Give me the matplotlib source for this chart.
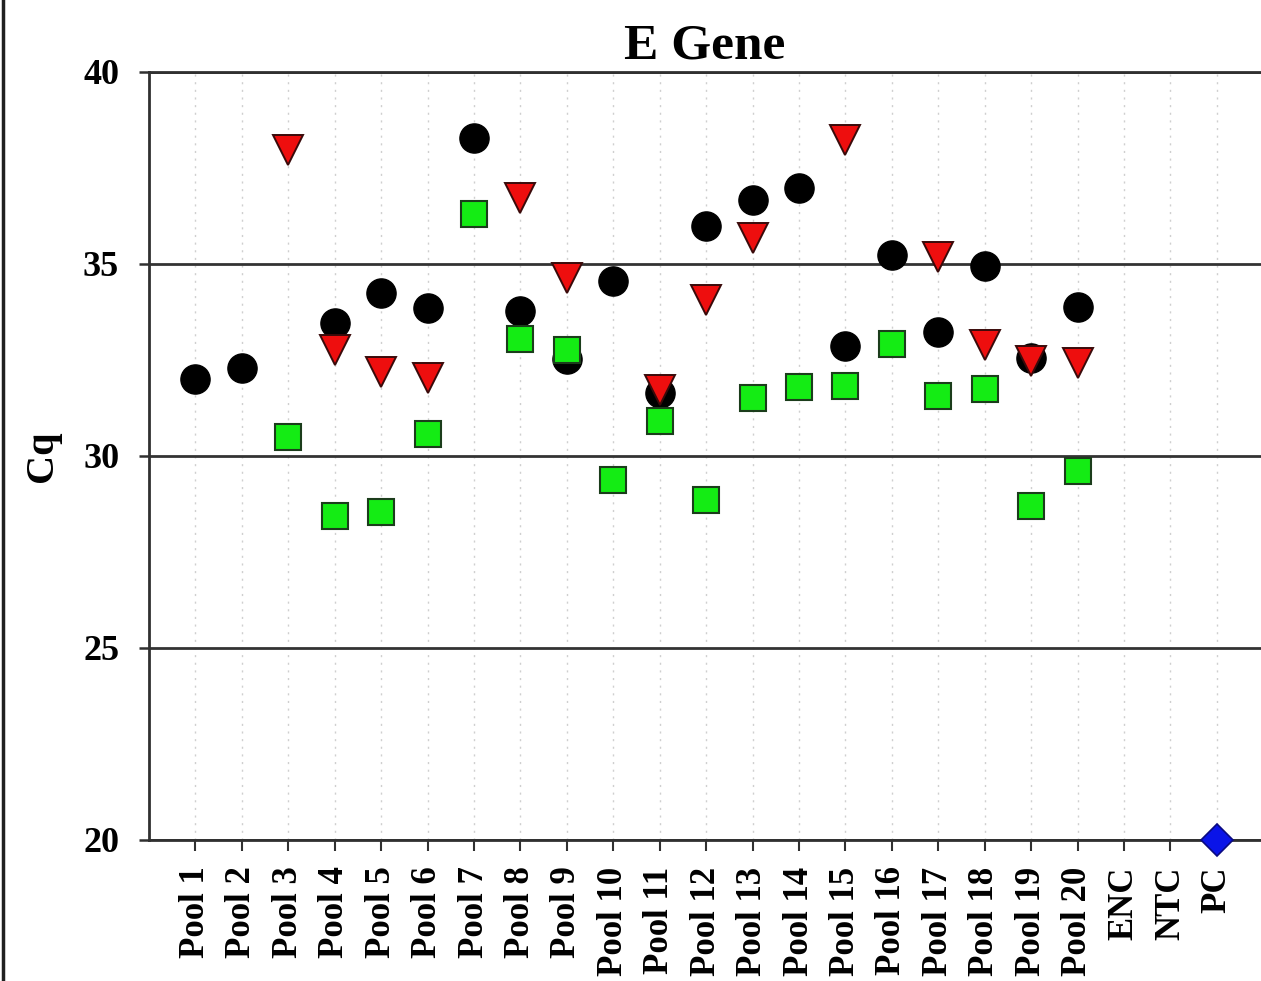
import matplotlib.pyplot as plt
from matplotlib.lines import Line2D

# categories on the x axis
labels = [f"Pool {i}" for i in range(1, 21)] + ["ENC", "NTC", "PC"]

# Cq values (None = no point)
circle_cq = [32.0, 32.3, None, 33.47, 34.25, 33.86, 38.27, 33.78, 32.53, 34.56,
             31.64, 35.99, 36.67, 36.98, 32.86, 35.24, 33.23, 34.95, 32.55, 33.89,
             None, None, None]
square_cq = [None, None, 30.5, 28.44, 28.54, 30.58, 36.3, 33.04, 32.76, 29.38,
             30.92, 28.85, 31.52, 31.79, 31.81, 32.92, 31.55, 31.74, 28.7, 29.6,
             None, None, None]
triangle_cq = [None, None, 37.98, 32.76, 32.2, 32.04, None, 36.71, 34.63, None,
               31.72, 34.06, 35.67, None, 38.23, None, 35.19, 32.89, 32.48, 32.43,
               None, None, None]
diamond_cq = [None] * 22 + [20.0]


def pts(values):
    xs = [i + 1 for i, v in enumerate(values) if v is not None]
    ys = [v for v in values if v is not None]
    return xs, ys


plt.rcParams['font.family'] = ['Liberation Serif', 'DejaVu Serif']
plt.rcParams['font.weight'] = 'bold'

fig = plt.figure(figsize=(12.61, 9.81), dpi=100)
ax = fig.add_axes([149 / 1261, 1 - 840 / 981, 1 - 149 / 1261, (840 - 72) / 981])

# gridlines
ax.set_axisbelow(True)
ax.yaxis.grid(True, color='#333333', linewidth=2.0, linestyle='-')
ax.xaxis.grid(True, color='#cfcfcf', linewidth=1.0, linestyle=(0, (1.5, 4)))

# points
x, y = pts(circle_cq)
ax.plot(x, y, 'o', ms=21, color='black', mec='black', zorder=3)
x, y = pts(square_cq)
ax.plot(x, y, 's', ms=18.5, color='#14ec14', mec='#1b3d1b', mew=1.5, zorder=4)
x, y = pts(triangle_cq)
ax.plot(x, y, 'v', ms=21, color='#ee0e0e', mec='#3a0a0a', mew=1.4, zorder=5)
x, y = pts(diamond_cq)
ax.plot(x, y, 'D', ms=16, color='#0a14e8', mec='#0a0a80', mew=1.2, zorder=6, clip_on=False)

ax.set_xlim(0, 23.95)
ax.set_ylim(20, 40)
ax.set_xticks(range(1, len(labels) + 1))
ax.set_xticklabels(labels, rotation=90, fontsize=25, fontweight='bold')
ax.set_yticks([20, 25, 30, 35, 40])
ax.set_yticklabels(['20', '25', '30', '35', '40'], fontsize=26, fontweight='bold')
ax.tick_params(axis='y', direction='out', length=7.5, width=1.8, color='#303030', pad=14)
ax.tick_params(axis='x', direction='out', length=8, width=1.5, color='#303030', pad=11)

for side in ['left', 'bottom', 'top']:
    ax.spines[side].set_linewidth(2.0)
    ax.spines[side].set_color('#303030')
ax.spines['right'].set_visible(False)

ax.set_title('E Gene', fontsize=37, fontweight='bold', pad=10)
ax.set_ylabel('Cq', fontsize=29, fontweight='bold', labelpad=16)

# frame line at left edge of the image
fig.add_artist(Line2D([3 / 1261, 3 / 1261], [0, 1], color='#202020', linewidth=2.5))

fig.savefig('out.png', dpi=100)
